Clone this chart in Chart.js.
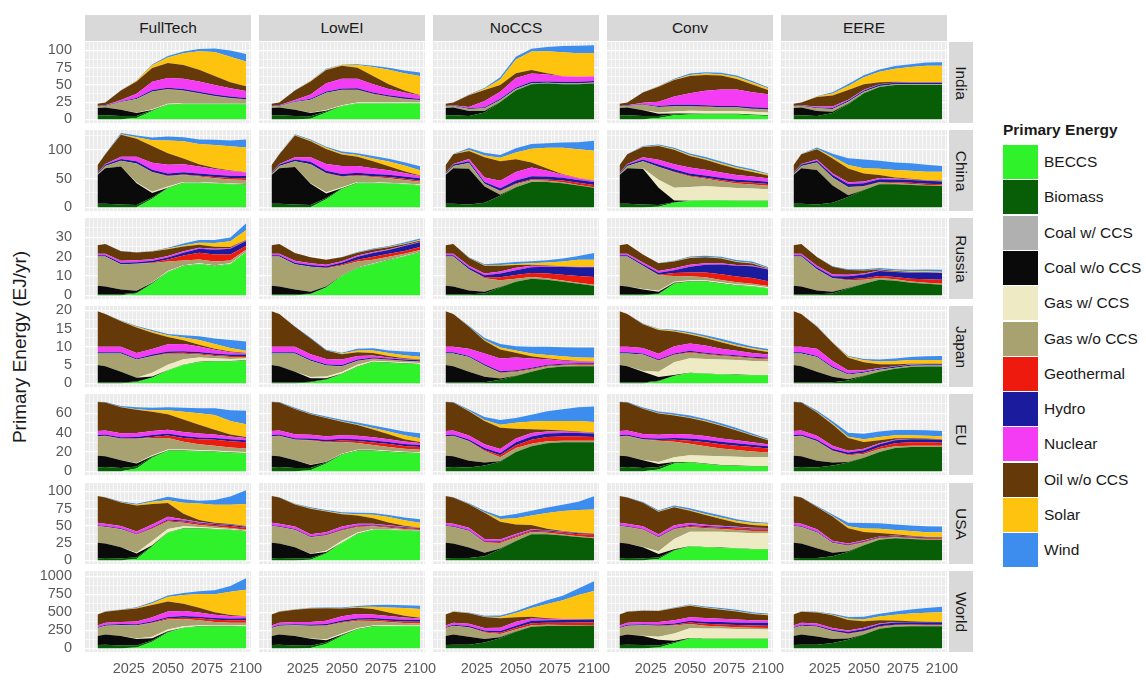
<!DOCTYPE html>
<html><head><meta charset="utf-8">
<script src="https://cdn.jsdelivr.net/npm/chart.js@4.4.1/dist/chart.umd.min.js"></script>
<style>
html,body{margin:0;padding:0;background:#fff;}
body{width:1146px;height:681px;position:relative;overflow:hidden;font-family:"Liberation Sans",Arial,sans-serif;}
.strip{position:absolute;background:#D9D9D9;color:#1A1A1A;font-size:15.5px;display:flex;align-items:center;justify-content:center;}
.rstrip span{display:block;transform:rotate(90deg);white-space:nowrap;}
.ytitle{position:absolute;left:20px;top:347px;transform:translate(-50%,-50%) rotate(-90deg);font-size:19px;color:#1A1A1A;white-space:nowrap;}
.lgtitle{position:absolute;left:1003px;top:121px;font-size:15.5px;font-weight:bold;color:#1A1A1A;white-space:nowrap;}
.lgkey{position:absolute;left:1003px;width:35px;height:34px;}
.lglab{position:absolute;left:1044px;font-size:15.5px;color:#1A1A1A;white-space:nowrap;line-height:34px;}
canvas{position:absolute;}
</style>
</head><body>
<script>
// ---------------- DATA ----------------
const years = [2005,2010,2020,2030,2040,2050,2060,2070,2080,2090,2100];
const regions = ["India","China","Russia","Japan","EU","USA","World"];
const scenarios = ["FullTech","LowEI","NoCCS","Conv","EERE"];
const seriesNames = ["BECCS","Biomass","Coal w/ CCS","Coal w/o CCS","Gas w/ CCS","Gas w/o CCS","Geothermal","Hydro","Nuclear","Oil w/o CCS","Solar","Wind"];
const seriesColors = ["#30F22A","#075E07","#B0B0B0","#0A0A0A","#EEEBC4","#A8A270","#EE1A0E","#1B1B9E","#F53CF5","#663A08","#FEC30F","#3C8DEE"];
const yAxisMax = [107,128,38,20.2,76,107,1020];
const yTickStep = [25,50,10,5,20,25,250];
const xTickLabels = [2025,2050,2075,2100];

// Each panel: 12 series (BECCS ... Wind), values at the years above (EJ/yr)
const India_FullTech = [
 [0,0,0,2,12,21,22,22,22,22,22],
 [6,6,5,3,1,.5,.5,.5,.5,.5,.5],
 [0,0,0,0,0,0,0,0,0,0,0],
 [10.5,11,9,4,.5,0,0,0,0,0,0],
 [0,0,0,.5,1,1,1,1,1,1,1],
 [2,2.5,11,20,26,21,18,14,10,7,5],
 [0,0,0,0,0,.5,.5,.5,.5,.5,.5],
 [.5,.5,1,1.5,2,2,2,2,2,2,2],
 [.3,.5,2,6,12,14,15,15,14,12,10],
 [3.5,4,14,18,20,22,20,17,13,9,7],
 [0,0,0,1,4,8,17,27,35,37,36],
 [0,0,.3,.5,1,2,2.5,3,5,9,11]];
const India_LowEI = [
 [0,0,0,1,10,19,23,23,23,23,23],
 [6,6,5,3.5,1.5,.5,.5,.5,.5,.5,.5],
 [0,0,0,0,0,0,0,0,0,0,0],
 [10.5,11,9,4.5,1,0,0,0,0,0,0],
 [0,0,0,.5,1,1,1,1,1,1,1],
 [2,2.5,11,19,25,22,18,12,8,5,3],
 [0,0,0,0,0,.3,.5,.5,.5,.5,.5],
 [.5,.5,1,1.5,2,2,2,2,2,2,1.5],
 [.3,.5,2,6,12,14,14,12,9,7,5],
 [3.5,4,14,19,19,19,16,12,7,3,.5],
 [0,0,0,.5,1,1,4,13,21,25,28],
 [0,0,.3,.5,1,.5,1,2,3,4,5]];
const India_NoCCS = [
 [0,0,0,0,0,0,0,0,0,0,0],
 [6,6,5,10,25,42,51,52,51,51,52],
 [0,0,0,0,0,0,0,0,0,0,0],
 [10.5,11,7,2,0,0,0,0,0,0,0],
 [0,0,0,0,0,0,0,0,0,0,0],
 [2,2.5,3,4,3,2,1.5,1,1,1,1],
 [0,0,0,0,0,0,0,0,.5,.5,.5],
 [.5,.5,1,1.5,2,2,2,2,2,2,2],
 [.3,.5,2,9,10,14,12,10,8,7.5,7],
 [3.5,4,17,16,10,7,5,2,0,0,0],
 [0,0,.5,2,8,20,27,32,35,34,34],
 [0,0,.5,1,3,4,4,6,9,11,11]];
const India_Conv = [
 [0,0,0,2,6,7,7,7,7,6,5],
 [6,6,5,3,1.5,1,1,1,1,1,1],
 [0,0,0,0,0,0,0,0,0,0,0],
 [10.5,11,8,3,1,.5,0,0,0,0,0],
 [0,0,0,2,3,4,4,4,4,4,4],
 [2,2.5,8,8,7,6,6,5,5,4,4],
 [0,0,0,0,.5,.5,.5,.5,.5,.5,.5],
 [.5,.5,1,1.5,2,2,2,2,2,2,2],
 [.3,.5,2,6,12,17,21,24,24,22,20],
 [3.5,4,15,22,24,25,23,20,15,11,6],
 [0,0,0,.5,1,1.5,2,2,3,3,2.5],
 [0,0,.5,.5,1,2,2,2,2,2,1.5]];
const India_EERE = [
 [0,0,0,0,0,0,0,0,0,0,0],
 [6,6,5,9,22,38,47,50,50,50,50],
 [0,0,0,0,0,0,0,0,0,0,0],
 [10.5,11,7,2,.5,0,0,0,0,0,0],
 [0,0,0,0,0,0,0,0,0,0,0],
 [2,2.5,4,4,3,2,1.5,1,1,1,1],
 [0,0,0,0,0,0,0,0,0,0,0],
 [.5,.5,1,1.5,2,2,2,2,2,2,2],
 [.3,.5,1.5,2,1,1,.5,.5,.5,.5,.5],
 [3.5,4,14,16,14,8,3,1,.5,.5,.5],
 [0,0,.5,3,6,10,15,19,22,24,24],
 [0,0,.5,2,3,3,3.5,4,4,4.5,5]];

const China_FullTech = [
 [0,0,0,0,15,33,42,42,41,40,39],
 [6,6,5,4,2,1,.5,.5,.5,.5,.5],
 [0,0,0,0,0,0,0,0,0,0,0],
 [50,62,66,38,8,0,0,0,0,0,0],
 [0,0,0,1,2,2,1.5,1,1,1,1],
 [2,4,10,33,34,18,12,10,8,7,7],
 [0,0,0,0,.5,1,1,1.5,2,2.5,3],
 [1.5,2.5,3,4,4,4,4,4,4,4,4],
 [.5,.8,4,8,12,15,14,12,10,8,6],
 [13,17,38,31,29,20,10,4,2,1,.5],
 [0,0,1,3,10,22,30,35,40,42,43],
 [0,.2,2,3,5,7,7,8,9,10,14]];
const China_LowEI = [
 [0,0,0,0,14,32,42,42,41,40,38],
 [6,6,5,4,2,1,.5,.5,.5,.5,.5],
 [0,0,0,0,0,0,0,0,0,0,0],
 [50,62,65,37,8,0,0,0,0,0,0],
 [0,0,0,1,2,2,1.5,1,1,1,1],
 [2,4,10,33,33,18,11,9,8,6,5],
 [0,0,0,0,.5,1,1,1.5,2,2,2],
 [1.5,2.5,3,4,4,4,4,4,4,4,4],
 [.5,.8,4,8,12,14,12,10,8,6,4],
 [13,17,38,28,26,20,16,12,7,3,1],
 [0,0,.5,1,2,2,3,5,8,10,9],
 [0,.2,1.5,2,2,3,3,4,5,6,7]];
const China_NoCCS = [
 [0,0,0,0,0,0,0,0,0,0,0],
 [6,6,5,8,20,35,44,44,42,38,34],
 [0,0,0,0,0,0,0,0,0,0,0],
 [50,62,62,28,2,0,0,0,0,0,0],
 [0,0,0,0,0,0,0,0,0,0,0],
 [2,4,10,5,6,5,3,2,1.5,1,1],
 [0,0,0,0,1,1.5,2,2.5,3,3.5,4],
 [1.5,2.5,3,3,4,5,5,5,5,5,5],
 [.5,.8,4,8,13,15,15,10,5,3,2],
 [13,17,14,35,34,22,9,4,1,.5,.5],
 [0,0,2,3,6,12,24,36,46,50,52],
 [0,.2,3,5,5,7,8,8,9,12,17]];
const China_Conv = [
 [0,0,0,1,8,11,12,12,11,11,11],
 [6,6,5,3,1,.5,.5,.5,.5,.5,.5],
 [0,0,0,0,0,0,0,0,0,0,0],
 [50,62,62,30,3,0,0,0,0,0,0],
 [0,0,1,14,22,24,24,23,22,21,20],
 [2,4,12,22,27,18,13,10,8,7,6],
 [0,0,0,.5,1,1.5,2,2,2.5,3,3],
 [1.5,2.5,3,4,4,4,4,4,4,4,4],
 [.5,.8,4,8,9,10,10,9,8,7,6],
 [13,17,18,24,25,20,17,14,11,8,5],
 [0,0,.5,1,1.5,2,2,2,2,2,2],
 [0,.2,1,1.5,2,2.5,3,3,3,2.5,1.5]];
const China_EERE = [
 [0,0,0,0,0,0,0,0,0,0,0],
 [6,6,5,8,18,30,40,40,39,38,37],
 [0,0,0,0,0,0,0,0,0,0,0],
 [50,62,60,30,3,0,0,0,0,0,0],
 [0,0,0,0,0,0,0,0,0,0,0],
 [2,4,13,14,14,6,3,2,1.5,1,1],
 [0,0,0,0,.5,1,1,1.5,2,2,2],
 [1.5,2.5,3,4,5,5,5,5,5,5,5],
 [.5,.8,2,3,3,3,2,1.5,1,.5,.5],
 [13,17,18,26,24,14,5,2,1,.5,.5],
 [0,0,1,3,6,9,11,13,14,15,16],
 [0,.2,2,5,12,15,14,13,13,12,10]];

const Russia_FullTech = [
 [0,0,0,1,6,12,15,16,15,16,22],
 [.5,.5,.5,.3,.2,.2,.2,.2,.2,.2,.2],
 [0,0,0,0,0,0,0,0,0,0,0],
 [4.5,4,2.5,1,.3,0,0,0,0,0,0],
 [0,0,0,0,.2,.3,.3,.3,.3,.3,.3],
 [15,15.5,13,14,10,5,2.5,2,2,1.5,1],
 [0,0,0,0,.3,1,2.5,3.5,3.5,3,2],
 [.7,.7,.8,.8,.8,1,1.5,2,2.5,3,2.5],
 [.7,.8,1,1,.8,.8,.7,.6,.5,.4,.3],
 [4.5,5,5,4,4,3.5,2.5,1.5,1,.5,.3],
 [0,0,0,0,.1,.3,.5,1,2,3,5],
 [0,0,.1,.1,.2,.5,1,1.5,1.5,2,3.5]];
const Russia_LowEI = [
 [0,0,0,.5,4,10,14,16,18,20,22],
 [.5,.5,.5,.3,.2,.2,.2,.2,.2,.2,.2],
 [0,0,0,0,0,0,0,0,0,0,0],
 [4.5,4,2.5,1,.3,0,0,0,0,0,0],
 [0,0,0,0,0,.2,.2,.2,.2,.2,.2],
 [15,15.5,13,13,9.5,5,3,2,1.5,1,1],
 [0,0,0,0,.2,.5,1,1.5,1.5,1.5,1.5],
 [.7,.7,.8,.8,.8,1,1.5,2,2,2.5,2.5],
 [.7,.8,1,1,.8,.7,.6,.5,.4,.3,.3],
 [4.5,5,4,3,2.5,2,1.5,1.2,1,.6,.5],
 [0,0,0,0,0,0,.1,.2,.2,.3,.3],
 [0,0,0,0,0,.2,.3,.4,.5,.6,.8]];
const Russia_NoCCS = [
 [0,0,0,0,0,0,0,0,0,0,0],
 [.5,.5,.5,1,4,7,8.5,8,7,6,5],
 [0,0,0,0,0,0,0,0,0,0,0],
 [4.5,4,2,.8,.3,0,0,0,0,0,0],
 [0,0,0,0,0,0,0,0,0,0,0],
 [15,15.5,11,7,3.5,1.5,1,.8,.6,.5,.5],
 [0,0,0,.5,1.5,2,2,2.5,3,3.5,4],
 [.7,.7,.8,1,2,2.5,3,3.5,4,4.5,5],
 [.7,.8,1,1,1,1.2,.8,.3,.2,.2,.2],
 [4.5,5,4,4,3,1.5,.5,.3,.2,.1,.1],
 [0,0,.1,.2,.3,.5,.8,1.5,2.5,3.5,3.5],
 [0,0,.2,.5,1,1,1,1.2,1.5,2,3.5]];
const Russia_Conv = [
 [0,0,0,.5,6,7,7,6,5,4.5,3.5],
 [.5,.5,.5,.3,.2,.2,.2,.2,.2,.2,.2],
 [0,0,0,0,0,0,0,0,0,0,0],
 [4.5,4,2.5,1,.3,0,0,0,0,0,0],
 [0,0,.2,.5,.5,.6,.6,.5,.5,.5,.5],
 [15,15.5,12,8,3,2,1.5,1.2,1,.8,.6],
 [0,0,0,.3,1.5,2,2.5,3,3,3,2.5],
 [.7,.7,.8,1,1.5,3,4,5,5.5,6,6],
 [.7,.8,1,1,1,1,.8,.6,.5,.4,.3],
 [4.5,5,4,4,3.5,3.5,3,2.5,1.5,1,.3],
 [0,0,0,0,.1,.2,.2,.2,.3,.3,.2],
 [0,0,0,.1,.3,.5,.6,.7,.7,.7,.5]];
const Russia_EERE = [
 [0,0,0,0,0,0,0,0,0,0,0],
 [.5,.5,.5,1,3.5,6,8,7.5,6.5,6,5.5],
 [0,0,0,0,0,0,0,0,0,0,0],
 [4.5,4,2,.8,.3,0,0,0,0,0,0],
 [0,0,0,0,0,0,0,0,0,0,0],
 [15,15.5,11,7,4,2,1,.8,.6,.5,.5],
 [0,0,0,0,.5,.8,1,1.2,1.5,1.8,2],
 [.7,.7,.8,1,1.5,2,2.5,2.5,3,3.5,3.5],
 [.7,.8,1,1,.8,.5,.3,.2,.2,.1,.1],
 [4.5,5,4.5,4,2.5,1.5,.5,.3,.2,.1,.1],
 [0,0,0,0,0,.2,.2,.3,.4,.4,.5],
 [0,0,0,.2,.3,.5,.6,.7,.8,.9,1]];

const Japan_FullTech = [
 [0,0,0,.3,1.5,3.5,5,5.8,6,6,6.2],
 [.2,.2,.2,.2,.1,.1,.1,.1,.1,.1,.1],
 [0,0,0,0,0,0,0,0,0,0,0],
 [4.8,4.5,3,1,.3,0,0,0,0,0,0],
 [0,0,0,0,1,1.5,1.5,1.2,.8,.6,.5],
 [3.2,3.5,5,5,4.5,3,1.5,.8,.6,.5,.4],
 [0,0,0,0,.1,.2,.3,.3,.3,.3,.3],
 [.3,.3,.3,.3,.4,.4,.4,.4,.4,.4,.4],
 [1.5,1.5,1.5,1.5,1.5,2,2,1.5,1,.6,.3],
 [9.8,9,7,7,4.5,2,1,.5,.3,.2,.1],
 [0,0,.1,.2,.4,.5,.8,1.3,1.3,1,.6],
 [0,0,.1,.2,.3,.3,.6,1,1.5,2.2,2.6]];
const Japan_LowEI = [
 [0,0,0,.2,1,2.5,4.5,5.8,5.6,5.4,5.2],
 [.2,.2,.2,.2,.1,.1,.1,.1,.1,.1,.1],
 [0,0,0,0,0,0,0,0,0,0,0],
 [4.8,4.5,3,1,.3,0,0,0,0,0,0],
 [0,0,0,.3,.5,.5,.5,.3,.3,.3,.3],
 [3.2,3.5,5,4.5,3,1.5,1,.5,.4,.3,.3],
 [0,0,0,0,0,.1,.1,.1,.1,.1,.1],
 [.3,.3,.3,.3,.3,.3,.3,.3,.3,.3,.3],
 [1.5,1.5,1.5,1.5,1.5,1.5,1,.5,.3,.2,.1],
 [9.8,9,5.5,4.3,2.3,1.5,1,.7,.4,.2,.1],
 [0,0,0,0,0,.2,.5,.7,.8,.8,.8],
 [0,0,.1,.2,.2,.2,.5,.6,.7,1,1.2]];
const Japan_NoCCS = [
 [0,0,0,0,0,0,0,0,0,0,0],
 [.2,.2,.2,.3,1,2,3.2,4.2,4.6,4.7,4.7],
 [0,0,0,0,0,0,0,0,0,0,0],
 [4.8,4.5,3,1.5,.3,.1,0,0,0,0,0],
 [0,0,0,0,0,0,0,0,0,0,0],
 [3.2,3.5,4,3,1.5,1,.6,.4,.3,.3,.3],
 [0,0,0,.1,.2,.2,.2,.2,.2,.2,.2],
 [.3,.3,.3,.3,.3,.3,.3,.3,.3,.3,.3],
 [1.5,1.5,2,3,3.5,3.5,2.5,1.5,.8,.5,.4],
 [9.8,9,6,3.5,2.5,1.3,.6,.3,.2,.1,.1],
 [0,0,.1,.2,.5,.6,.8,.9,1,1,1],
 [0,0,.2,.5,1,1.2,1.8,2.2,2.5,2.7,2.8]];
const Japan_Conv = [
 [0,0,0,.5,2,2.8,2.6,2.4,2.3,2.2,2.2],
 [.2,.2,.2,.2,.1,.1,.1,.1,.1,.1,.1],
 [0,0,0,0,0,0,0,0,0,0,0],
 [4.8,4.5,3,1,.2,0,0,0,0,0,0],
 [0,0,.2,1.5,3.5,4,4,4,4,3.8,3.7],
 [3.2,3.5,4.5,3,2,1.5,1.2,1,.8,.7,.6],
 [0,0,0,.1,.1,.2,.2,.2,.2,.2,.2],
 [.3,.3,.3,.3,.3,.3,.3,.3,.3,.3,.3],
 [1.5,1.5,1.5,1.5,2,2,2,1.5,1.2,1,.8],
 [9.8,9,6.5,6.5,4,2.5,2,1.8,1.3,1,.7],
 [0,0,.1,.2,.2,.3,.3,.3,.3,.3,.3],
 [0,0,.1,.2,.3,.4,.5,.6,.6,.5,.5]];
const Japan_EERE = [
 [0,0,0,0,0,0,0,0,0,0,0],
 [.2,.2,.2,.3,.8,2,3.2,4,4.5,4.6,4.6],
 [0,0,0,0,0,0,0,0,0,0,0],
 [4.8,4.5,3,1.5,.3,.1,0,0,0,0,0],
 [0,0,0,0,0,0,0,0,0,0,0],
 [3.2,3.5,4,2.5,1.3,.8,.5,.3,.3,.3,.3],
 [0,0,0,0,0,0,0,0,0,0,0],
 [.3,.3,.3,.3,.3,.3,.3,.3,.3,.3,.3],
 [1.5,1.5,2,1.5,.8,.4,.2,.1,.1,.1,.1],
 [9.8,9,6,5,3.5,2.2,1,.5,.2,.1,.1],
 [0,0,.1,.1,.3,.5,.8,.9,1,1,1],
 [0,0,.1,.1,.2,.4,.5,.7,.8,1,1.1]];

const EU_FullTech = [
 [0,0,0,3,14,21,21,20.5,20,19,18.5],
 [4,4.5,3.5,2,1,.5,.5,.5,.5,.5,.5],
 [0,0,0,0,0,0,0,0,0,0,0],
 [12,11,8,3,.5,0,0,0,0,0,0],
 [0,0,0,.5,1,1,1,1,1,1,1],
 [20,21,22,25,18,12,8,6,5,4,3.5],
 [.2,.2,.3,.5,1,2.5,4,5,6,6.5,6.5],
 [1.3,1.3,1.4,1.5,2,2,2,2,2,2,2],
 [4,4,4,4,4,4,4,4,3.5,3,2.5],
 [30,29,27,24,20,16,13,9,5,2,1],
 [0,.1,.3,.5,1.5,4,8,12,15,14,13],
 [.3,.5,1,2,2.5,3,4,5,7,11,14]];
const EU_LowEI = [
 [0,0,0,1,8,17,21,21,20,19,18.5],
 [4,4.5,3.5,2.5,1,.5,.5,.5,.5,.5,.5],
 [0,0,0,0,0,0,0,0,0,0,0],
 [12,11,8,3,.5,0,0,0,0,0,0],
 [0,0,0,.3,.5,.7,.7,.7,.7,.7,.7],
 [20,21,21,25,20,12,7,5,4,3,2.5],
 [.2,.2,.3,.5,.8,1.5,2,2.5,3,3,3],
 [1.3,1.3,1.4,1.5,1.8,2,2,2,2,2,2],
 [4,4,4,4,3.5,3.5,3.5,3.5,3,2.5,2],
 [30,29,26,21,19,14,11,8,5,2.5,1],
 [0,.1,.3,.3,.3,.4,.6,1.5,3,4,4],
 [.3,.5,1,1,1.2,1.5,2,2.5,3,4,5]];
const EU_NoCCS = [
 [0,0,0,0,0,0,0,0,0,0,0],
 [4,4.5,4,6,10,20,26,29,30,30,30],
 [0,0,0,0,0,0,0,0,0,0,0],
 [12,11,7,3,.5,0,0,0,0,0,0],
 [0,0,0,0,0,0,0,0,0,0,0],
 [20,21,20,12,4,4,2.5,2,1.5,1.5,1.5],
 [.2,.2,.4,1,2,3,4,4.5,4.5,4.5,4],
 [1.3,1.3,1.5,2,2.5,3,3.5,3.5,3.5,3.5,3.5],
 [4,4,4,4,4,4,3.5,2,1.5,1,.5],
 [30,29,25,24,22,10,4,2,1,.5,.5],
 [0,.1,.5,1,3,6,8,9,10,11,11],
 [.3,.5,1.5,3,5,5,7,10,12,14,16]];
const EU_Conv = [
 [0,0,0,2,8,9,7.5,6,5.5,5,5],
 [4,4.5,3.5,2.5,1,.5,.5,.5,.5,.5,.5],
 [0,0,0,0,0,0,0,0,0,0,0],
 [12,11,8,3,.5,0,0,0,0,0,0],
 [0,0,.3,2,5,7,8,9,9,9,9],
 [20,21,21,22,16,12,10,8,7,6,5],
 [.2,.2,.3,.8,2,3,4,4.5,4.5,4.5,4],
 [1.3,1.3,1.4,1.5,2,2.5,2.5,2.5,2.5,2.5,2.5],
 [4,4,4,4,4,4,4,3.5,3,2.5,2],
 [30,29,26,22,19,17,15,13,10,7,4],
 [0,.1,.3,.4,.5,.6,.6,.6,.6,.6,.5],
 [.3,.5,1,1.5,2,2,2,2,2,1.5,1]];
const EU_EERE = [
 [0,0,0,0,0,0,0,0,0,0,0],
 [4,4.5,4,6,9,14,20,24,25,25,25],
 [0,0,0,0,0,0,0,0,0,0,0],
 [12,11,7,3,.5,0,0,0,0,0,0],
 [0,0,0,0,0,0,0,0,0,0,0],
 [20,21,20,12,7,4,3,2,1.5,1.5,1.5],
 [.2,.2,.3,.5,.8,1.2,2,3,3.5,3.5,3],
 [1.3,1.3,1.5,1.8,2,2.5,3,3,3,3,3],
 [4,4,4,3,2,1.5,1,.6,.4,.3,.3],
 [30,29,24,22,13,7,3,1.5,.8,.5,.3],
 [0,.1,.5,1,1.5,3,3.5,3,3,3,3],
 [.3,.5,1.5,2.5,4,5.5,5.5,5.5,5.5,5.5,5.5]];

const USA_FullTech = [
 [0,0,0,2,20,40,46,46,45,44,42],
 [3,3.5,3,2,1,.5,.5,.5,.5,.5,.5],
 [0,0,0,0,0,0,0,0,0,0,0],
 [22.5,21,16,6,1,0,0,0,0,0,0],
 [0,0,0,1,6,5,3,2,1.5,1,1],
 [24.5,24,26,26,18,11,5,3,2,1.5,1],
 [0,.3,.5,.7,1,1.5,2,2,2.5,3,3],
 [1,1,1,1,1,1.2,1.2,1.2,1.2,1.2,1.2],
 [3.5,3.5,3.5,3,4,4,2,1,.5,.5,.5],
 [39,38,34,38,30,20,8,3,1.5,1,.5],
 [0,.1,.5,1,3,4,16,24,26,28,32],
 [.1,.4,1,1.5,2,5,5,4,7,12,20]];
const USA_LowEI = [
 [0,0,0,1,10,25,38,44,44,43,42],
 [3,3.5,3,2,1,.5,.5,.5,.5,.5,.5],
 [0,0,0,0,0,0,0,0,0,0,0],
 [22.5,21,16,6,1,0,0,0,0,0,0],
 [0,0,0,.5,2,3,2,1,.8,.5,.5],
 [24.5,24,25,24,22,15,8,4,2,1.5,1],
 [0,.3,.5,.5,.8,1,1,1.2,1.5,1.5,1.5],
 [1,1,1,1,1,1,1,1,1,1,1],
 [3.5,3.5,3.5,3,3,3.5,2.5,1.5,1,.8,.5],
 [39,38,32,37,30,18,12,8,4,1.5,.5],
 [0,.1,.3,.5,.8,1,2,5,8,8,7],
 [.1,.4,1,1.5,1.5,2,2,2.5,3,4,5]];
const USA_NoCCS = [
 [0,0,0,0,0,0,0,0,0,0,0],
 [3,3.5,3.5,6,16,28,38,38,36,34,32],
 [0,0,0,0,0,0,0,0,0,0,0],
 [22.5,21,15,5,1,0,0,0,0,0,0],
 [0,0,0,0,0,0,0,0,0,0,0],
 [24.5,24,24,15,8,5,3,2,1.5,1,1],
 [0,.3,.5,1,1.5,2,2,2,2.5,3,4],
 [1,1,1,1,1.2,1.2,1.2,1.2,1.2,1.2,1.2],
 [3.5,3.5,3.5,3,2.5,2,1,.5,.5,.3,.3],
 [39,38,34,38,26,14,6,2,1,.5,.5],
 [0,.1,.5,1,4,9,14,23,29,33,35],
 [.1,.4,1,2,4,6,7,8,9,12,19]];
const USA_Conv = [
 [0,0,0,2,14,20,19,18,17,16,16],
 [3,3.5,3,2,1,.5,.5,.5,.5,.5,.5],
 [0,0,0,0,0,0,0,0,0,0,0],
 [22.5,21,16,5,1,0,0,0,0,0,0],
 [0,0,.5,4,15,21,22,23,23,23,23],
 [24.5,24,25,20,14,7,5,4,3.5,3,3],
 [0,.3,.5,.7,1,1.5,2,2,2.5,2.5,2.5],
 [1,1,1,1,1,1.2,1.2,1.2,1.2,1.2,1.2],
 [3.5,3.5,3.5,3,4,3,2,1.5,1,1,.8],
 [39,38,34,33,26,18,14,10,6,4,3],
 [0,.1,.3,.5,.8,1,1.5,2,2.5,3,3],
 [.1,.4,1,1.5,2,2.5,3,3,2.5,2,1.5]];
const USA_EERE = [
 [0,0,0,0,0,0,0,0,0,0,0],
 [3,3.5,3.5,6,12,22,30,32,31,30,30],
 [0,0,0,0,0,0,0,0,0,0,0],
 [22.5,21,14,5,1,0,0,0,0,0,0],
 [0,0,0,0,0,0,0,0,0,0,0],
 [24.5,24,23,14,8,4,2,1.5,1.2,1,1],
 [0,.3,.3,.5,.8,1,1,1,1,1,1],
 [1,1,1,1,1.2,1.2,1.2,1.2,1.2,1.2,1.2],
 [3.5,3.5,3.5,2,1.5,1,.5,.3,.3,.2,.2],
 [39,38,32,35,22,12,5,2,1,.5,.3],
 [0,.1,.5,1,3,5,6,6,7,7,7],
 [.1,.4,1,2,5,8,8,8,8,8.5,8.5]];

const World_FullTech = [
 [0,0,0,10,90,220,280,300,300,300,305],
 [45,48,40,30,20,10,5,5,5,5,5],
 [0,0,0,0,0,0,0,0,0,0,0],
 [125,145,130,90,30,5,0,0,0,0,0],
 [0,0,0,5,20,25,20,15,10,10,10],
 [110,120,150,180,190,140,100,70,50,40,35],
 [1,1,2,4,8,15,20,25,30,33,35],
 [11,12,14,16,18,20,22,22,24,24,25],
 [25,27,30,35,55,75,70,60,45,35,25],
 [150,155,165,180,170,140,100,65,35,15,5],
 [0,1,3,8,25,60,120,190,250,320,365],
 [1,3,5,10,15,20,30,40,55,80,160]];
const World_LowEI = [
 [0,0,0,5,60,170,260,300,305,305,305],
 [45,48,40,32,22,12,6,5,5,5,5],
 [0,0,0,0,0,0,0,0,0,0,0],
 [125,145,130,95,30,5,0,0,0,0,0],
 [0,0,0,3,12,18,15,10,8,6,5],
 [110,120,148,175,190,150,100,65,45,35,30],
 [1,1,2,4,6,10,14,18,20,22,22],
 [11,12,14,16,18,20,22,22,24,24,25],
 [25,27,30,33,45,60,60,50,40,30,22],
 [150,155,170,190,172,105,85,75,50,25,10],
 [0,1,2,3,4,5,10,30,70,105,120],
 [1,3,4,6,8,10,15,25,35,40,45]];
const World_NoCCS = [
 [0,0,0,0,0,0,0,0,0,0,0],
 [45,48,50,80,140,230,300,310,310,312,315],
 [0,0,0,0,0,0,0,0,0,0,0],
 [125,145,110,50,15,2,0,0,0,0,0],
 [0,0,0,0,0,0,0,0,0,0,0],
 [110,120,130,90,45,30,20,15,12,10,8],
 [1,1,3,8,15,22,28,30,32,34,35],
 [11,12,15,20,25,30,35,35,38,40,40],
 [25,27,32,35,45,55,30,15,10,8,5],
 [150,155,145,150,130,60,25,10,5,3,2],
 [0,1,4,6,20,60,120,200,260,330,390],
 [1,3,8,12,18,25,35,50,60,90,135]];
const World_Conv = [
 [0,0,0,10,70,135,130,130,130,130,130],
 [45,48,45,30,15,5,4,3,3,3,3],
 [0,0,0,0,0,0,0,0,0,0,0],
 [125,145,125,80,20,3,0,0,0,0,0],
 [0,0,3,40,100,135,140,140,135,130,128],
 [110,120,145,150,110,60,40,30,25,22,20],
 [1,1,2,5,10,18,25,28,30,32,33],
 [11,12,14,16,20,25,30,33,36,38,40],
 [25,27,30,35,45,50,50,45,40,35,30],
 [150,155,155,150,165,160,140,125,110,85,75],
 [0,1,2,3,4,5,6,7,8,9,10],
 [1,3,4,6,8,12,15,17,18,17,14]];
const World_EERE = [
 [0,0,0,0,0,0,0,0,0,0,0],
 [45,48,50,75,120,190,270,300,305,305,305],
 [0,0,0,0,0,0,0,0,0,0,0],
 [125,145,115,55,15,3,0,0,0,0,0],
 [0,0,0,0,0,0,0,0,0,0,0],
 [110,120,135,105,65,40,25,18,14,12,10],
 [1,1,2,4,6,8,10,10,10,10,10],
 [11,12,15,18,22,25,28,30,32,33,35],
 [25,27,28,25,20,18,12,8,5,4,3],
 [150,155,150,175,145,90,45,20,10,5,3],
 [0,1,4,8,15,30,50,80,105,125,135],
 [1,3,6,14,25,35,40,45,55,65,75]];

const panelData = [
 [India_FullTech, India_LowEI, India_NoCCS, India_Conv, India_EERE],
 [China_FullTech, China_LowEI, China_NoCCS, China_Conv, China_EERE],
 [Russia_FullTech, Russia_LowEI, Russia_NoCCS, Russia_Conv, Russia_EERE],
 [Japan_FullTech, Japan_LowEI, Japan_NoCCS, Japan_Conv, Japan_EERE],
 [EU_FullTech, EU_LowEI, EU_NoCCS, EU_Conv, EU_EERE],
 [USA_FullTech, USA_LowEI, USA_NoCCS, USA_Conv, USA_EERE],
 [World_FullTech, World_LowEI, World_NoCCS, World_Conv, World_EERE]
];

// ---------------- LAYOUT ----------------
const FONT = '"Liberation Sans", Arial, sans-serif';
const PANEL_W = 166, PANEL_H = 81, COL0 = 85, COL_STEP = 174;
const rowTop = [42,130,218,306,394,483,571];
const X_MIN = 1997, X_MAX = 2103.2;
const xGrid = [];
for (let v = 2000; v <= 2102.5; v += 2.5) xGrid.push(v);

function addDiv(cls, css, html){
  const d = document.createElement('div');
  d.className = cls; d.style.cssText = css; d.innerHTML = html;
  document.body.appendChild(d); return d;
}

// column strips
scenarios.forEach((s, c) => {
  addDiv('strip', `left:${COL0 + COL_STEP*c}px;top:15px;width:${PANEL_W}px;height:26px;`, s);
});
// row strips
regions.forEach((r, i) => {
  addDiv('strip rstrip', `left:949px;top:${rowTop[i]}px;width:24px;height:${PANEL_H}px;`, `<span>${r}</span>`);
});
// y title
addDiv('ytitle', '', 'Primary Energy (EJ/yr)');
// legend
addDiv('lgtitle', '', 'Primary Energy');
seriesNames.forEach((n, i) => {
  const top = 145 + 35.3*i;
  addDiv('lgkey', `top:${top}px;background:${seriesColors[i]};`, '');
  addDiv('lglab', `top:${top}px;`, n);
});

const bgPlugin = {
  id: 'panelBg',
  beforeDraw(chart){
    const a = chart.chartArea, ctx = chart.ctx;
    ctx.save(); ctx.fillStyle = '#EBEBEB';
    ctx.fillRect(a.left, a.top, a.right - a.left, a.bottom - a.top);
    ctx.restore();
  }
};

function zeroPad(s){ s.paddingTop = 0; s.paddingBottom = 0; s.paddingLeft = 0; s.paddingRight = 0; }

regions.forEach((reg, r) => {
  scenarios.forEach((sc, c) => {
    const series = panelData[r][c];
    const M = yAxisMax[r], step = yTickStep[r];
    const padL = c === 0 ? 45 : 0;
    const padT = c === 0 ? 9 : 0;
    const padBot = (c === 0 && r !== 6) ? 9 : 0;
    const xAxisH = r === 6 ? 29 : 0;
    const padR = r === 6 ? 18 : 0;
    const w = padL + PANEL_W + padR, h = padT + PANEL_H + padBot + xAxisH;
    const cv = document.createElement('canvas');
    cv.width = w; cv.height = h;
    cv.style.left = (COL0 + COL_STEP*c - padL) + 'px';
    cv.style.top = (rowTop[r] - padT) + 'px';
    cv.style.width = w + 'px'; cv.style.height = h + 'px';
    document.body.appendChild(cv);

    const yTicks = [];
    for (let v = 0; v <= M*1.05 + 1e-9; v += step/2) yTicks.push(v);
    const isMajor = v => Math.abs(v/step - Math.round(v/step)) < 1e-6;

    new Chart(cv, {
      type: 'line',
      data: {
        datasets: series.map((vals, k) => ({
          label: seriesNames[k],
          data: vals.map((v, i) => ({x: years[i], y: v})),
          backgroundColor: seriesColors[k],
          borderColor: seriesColors[k],
          borderWidth: 0,
          pointRadius: 0,
          tension: 0,
          fill: k === 0 ? 'origin' : '-1'
        }))
      },
      options: {
        responsive: false, animation: false, events: [],
        layout: {padding: {left: 0, top: padT, bottom: padBot, right: padR}},
        plugins: {legend: {display: false}, tooltip: {enabled: false}},
        scales: {
          x: {
            type: 'linear', min: X_MIN, max: X_MAX,
            afterBuildTicks: s => { s.ticks = xGrid.map(v => ({value: v})); },
            afterFit: s => { s.height = xAxisH; zeroPad(s); },
            grid: {color: 'rgba(255,255,255,0.85)', lineWidth: 0.8, drawTicks: false},
            border: {display: false},
            ticks: {
              display: r === 6, autoSkip: false, maxRotation: 0, minRotation: 0, padding: 8,
              color: '#5A5A5A', font: {family: FONT, size: 14.5},
              callback: v => xTickLabels.includes(v) ? String(v) : ''
            }
          },
          y: {
            stacked: true, min: -0.05*M, max: 1.05*M,
            afterBuildTicks: s => { s.ticks = yTicks.map(v => ({value: v})); },
            afterFit: s => { s.width = padL; zeroPad(s); },
            grid: {color: '#FFFFFF', lineWidth: ctx => isMajor(ctx.tick.value) ? 1.2 : 0.6, drawTicks: false},
            border: {display: false},
            ticks: {
              display: c === 0, autoSkip: false, padding: 13,
              color: '#5A5A5A', font: {family: FONT, size: 14.5},
              callback: v => isMajor(v) ? String(Math.round(v)) : ''
            }
          }
        }
      },
      plugins: [bgPlugin]
    });
  });
});
</script>
</body></html>
